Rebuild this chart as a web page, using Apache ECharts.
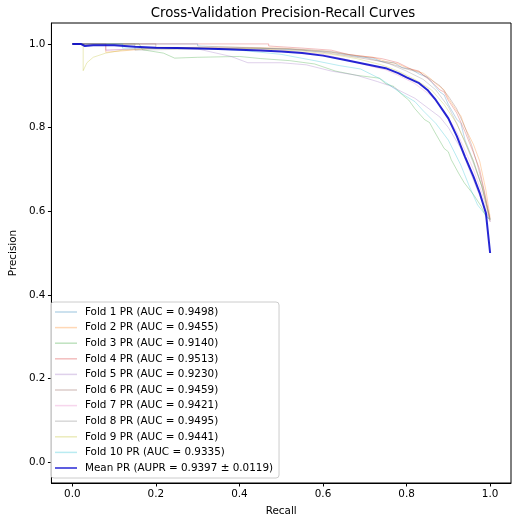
<!DOCTYPE html>
<html>
<head>
<meta charset="utf-8">
<script src="https://cdn.jsdelivr.net/npm/echarts@6/dist/echarts.min.js"></script>
<style>html,body{margin:0;padding:0;background:#fff}#c{width:518px;height:523px}</style>
</head>
<body>
<div id="c"></div>
<script>
const tickValues = [0, 0.2, 0.4, 0.6, 0.8, 1.0];
const foldNames = [
  'Fold 1 PR (AUC = 0.9498)', 'Fold 2 PR (AUC = 0.9455)', 'Fold 3 PR (AUC = 0.9140)',
  'Fold 4 PR (AUC = 0.9513)', 'Fold 5 PR (AUC = 0.9230)', 'Fold 6 PR (AUC = 0.9459)',
  'Fold 7 PR (AUC = 0.9421)', 'Fold 8 PR (AUC = 0.9495)', 'Fold 9 PR (AUC = 0.9441)',
  'Fold 10 PR (AUC = 0.9335)'
];
const meanName = 'Mean PR (AUPR = 0.9397 ± 0.0119)';
const foldColors = ['#1f77b4','#ff7f0e','#2ca02c','#d62728','#9467bd','#8c564b','#e377c2','#7f7f7f','#bcbd22','#17becf'];

const fold1 = [[0,1],[0.3,1],[0.3,0.995],[0.45,0.99],[0.55,0.985],[0.62,0.98],[0.68,0.97],[0.72,0.966],[0.74,0.958],[0.77,0.955],[0.79,0.943],[0.81,0.94],[0.83,0.928],[0.85,0.92],[0.86,0.908],[0.88,0.885],[0.89,0.878],[0.9,0.855],[0.92,0.82],[0.93,0.81],[0.94,0.77],[0.96,0.72],[0.98,0.66],[1.0,0.58]];
const fold2 = [[0,1],[0.08,1],[0.08,0.98],[0.2,0.99],[0.35,0.993],[0.5,0.99],[0.6,0.983],[0.68,0.972],[0.72,0.968],[0.75,0.958],[0.78,0.952],[0.8,0.943],[0.84,0.93],[0.86,0.915],[0.87,0.905],[0.89,0.89],[0.9,0.87],[0.92,0.84],[0.93,0.828],[0.94,0.8],[0.96,0.76],[0.975,0.72],[0.99,0.65],[1.0,0.585]];
const fold3 = [[0,1],[0.16,1],[0.168,0.986],[0.218,0.978],[0.245,0.966],[0.3,0.968],[0.4,0.97],[0.45,0.965],[0.52,0.96],[0.58,0.952],[0.63,0.935],[0.68,0.925],[0.735,0.918],[0.75,0.905],[0.77,0.898],[0.79,0.878],[0.805,0.866],[0.82,0.845],[0.843,0.819],[0.855,0.812],[0.867,0.79],[0.89,0.75],[0.9,0.742],[0.907,0.723],[0.925,0.69],[0.938,0.668],[0.96,0.64],[0.979,0.611],[0.99,0.587],[1.0,0.58]];
const fold4 = [[0,1],[0.47,1],[0.47,0.995],[0.55,0.99],[0.62,0.985],[0.66,0.975],[0.7,0.97],[0.74,0.965],[0.78,0.955],[0.81,0.94],[0.83,0.935],[0.84,0.925],[0.86,0.91],[0.88,0.89],[0.89,0.885],[0.9,0.865],[0.92,0.835],[0.94,0.79],[0.96,0.74],[0.975,0.7],[0.99,0.63],[1.0,0.58]];
const fold5 = [[0,1],[0.08,1],[0.08,0.985],[0.2,0.99],[0.3,0.988],[0.38,0.97],[0.42,0.955],[0.5,0.955],[0.56,0.95],[0.62,0.935],[0.68,0.925],[0.73,0.91],[0.76,0.9],[0.78,0.89],[0.82,0.87],[0.86,0.84],[0.88,0.825],[0.9,0.8],[0.93,0.75],[0.95,0.7],[0.97,0.65],[0.99,0.6],[1.0,0.575]];
const fold6 = [[0,1],[0.2,1],[0.2,0.992],[0.4,0.99],[0.52,0.988],[0.6,0.98],[0.68,0.968],[0.74,0.958],[0.77,0.95],[0.8,0.94],[0.83,0.932],[0.85,0.92],[0.88,0.9],[0.9,0.875],[0.92,0.845],[0.94,0.8],[0.955,0.76],[0.97,0.71],[0.985,0.65],[1.0,0.575]];
const fold7 = [[0,1],[0.08,1],[0.08,0.985],[0.2,0.99],[0.35,0.99],[0.5,0.985],[0.6,0.975],[0.66,0.962],[0.72,0.945],[0.75,0.938],[0.78,0.925],[0.82,0.905],[0.86,0.875],[0.89,0.84],[0.92,0.79],[0.94,0.745],[0.96,0.7],[0.98,0.645],[1.0,0.575]];
const fold8 = [[0,1],[0.15,1],[0.15,0.985],[0.3,0.988],[0.45,0.99],[0.55,0.987],[0.62,0.982],[0.7,0.968],[0.76,0.952],[0.8,0.935],[0.84,0.915],[0.87,0.89],[0.9,0.85],[0.92,0.81],[0.94,0.765],[0.96,0.715],[0.98,0.66],[1.0,0.58]];
const fold9 = [[0,1],[0.026,1],[0.026,0.936],[0.035,0.955],[0.05,0.968],[0.08,0.978],[0.12,0.985],[0.2,0.99],[0.3,0.99],[0.45,0.988],[0.55,0.983],[0.62,0.975],[0.68,0.965],[0.74,0.95],[0.78,0.935],[0.82,0.915],[0.86,0.89],[0.89,0.855],[0.92,0.81],[0.94,0.765],[0.96,0.72],[0.98,0.66],[1.0,0.58]];
const fold10 = [[0,1],[0.12,1],[0.12,0.99],[0.3,0.99],[0.4,0.985],[0.5,0.975],[0.58,0.96],[0.64,0.948],[0.69,0.94],[0.72,0.925],[0.74,0.915],[0.79,0.88],[0.82,0.862],[0.84,0.84],[0.87,0.81],[0.9,0.77],[0.93,0.71],[0.95,0.66],[0.97,0.615],[0.99,0.59],[1.0,0.58]];
const meanCurve = [[0,1.0],[0.02,1.0],[0.03,0.995],[0.05,0.997],[0.1,0.997],[0.15,0.993],[0.2,0.991],[0.25,0.99],[0.3,0.989],[0.35,0.988],[0.4,0.986],[0.45,0.984],[0.5,0.982],[0.55,0.978],[0.6,0.972],[0.65,0.962],[0.7,0.952],[0.75,0.942],[0.78,0.93],[0.8,0.92],[0.83,0.906],[0.85,0.89],[0.87,0.866],[0.9,0.822],[0.92,0.78],[0.94,0.73],[0.96,0.683],[0.975,0.644],[0.99,0.595],[1.0,0.5]];

const folds = [fold1, fold2, fold3, fold4, fold5, fold6, fold7, fold8, fold9, fold10];

function rgba(hex, a) {
  const n = parseInt(hex.slice(1), 16);
  return 'rgba(' + ((n >> 16) & 255) + ',' + ((n >> 8) & 255) + ',' + (n & 255) + ',' + a + ')';
}

const FONT = 'DejaVu Sans';
const FS = 10.4;
const series = folds.map((d, i) => ({
  name: foldNames[i],
  type: 'line',
  data: d,
  showSymbol: false,
  symbol: 'none',
  color: rgba(foldColors[i], 0.3),
  lineStyle: { width: 1, color: rgba(foldColors[i], 0.3) },
  animation: false,
  silent: true
}));
series.push({
  name: meanName,
  type: 'line',
  data: meanCurve,
  showSymbol: false,
  symbol: 'none',
  color: 'rgba(0,0,205,0.85)',
  lineStyle: { width: 2, color: 'rgba(0,0,205,0.85)' },
  animation: false,
  silent: true,
  z: 5
});

const legendData = foldNames.map((n, i) => ({ name: n, itemStyle: { color: rgba(foldColors[i], 0.3) } }));
legendData.push({ name: meanName, itemStyle: { color: 'rgba(0,0,205,0.85)' }, itemHeight: 2.5 });

const chart = echarts.init(document.getElementById('c'), null, { renderer: 'canvas' });
chart.setOption({
  animation: false,
  backgroundColor: '#fff',
  title: {
    text: 'Cross-Validation Precision-Recall Curves',
    left: 278, top: 2, textAlign: 'center',
    textStyle: { fontFamily: FONT, fontSize: 13.3, fontWeight: 'normal', color: '#000' }
  },
  grid: { left: 46, right: 7, top: 23, bottom: 40, show: true, borderColor: '#000', borderWidth: 1, backgroundColor: 'transparent' },
  legend: {
    orient: 'vertical', left: 51, top: 302,
    data: legendData,
    icon: 'rect', itemWidth: 22, itemHeight: 1.5, itemGap: 3.6,
    padding: [4, 6, 4, 4],
    backgroundColor: 'rgba(255,255,255,0.8)',
    borderColor: '#cccccc', borderWidth: 1, borderRadius: 3,
    textStyle: { fontFamily: FONT, fontSize: FS, color: '#000', lineHeight: 12, padding: [0, 0, 0, 3] },
    selectedMode: false
  },
  xAxis: {
    type: 'value', min: -0.05, max: 1.05,
    name: 'Recall', nameLocation: 'middle', nameGap: 23,
    nameTextStyle: { fontFamily: FONT, fontSize: FS, color: '#000' },
    axisLine: { show: true, onZero: false, lineStyle: { color: '#000', width: 1 } },
    axisTick: { show: true, length: 3.5, lineStyle: { color: '#000' }, customValues: tickValues },
    axisLabel: { fontFamily: FONT, fontSize: FS, color: '#000', margin: 6, customValues: tickValues, formatter: v => v.toFixed(1) },
    splitLine: { show: false }
  },
  yAxis: {
    type: 'value', min: -0.05, max: 1.05,
    name: 'Precision', nameLocation: 'middle', nameGap: 28, nameRotate: 90,
    nameTextStyle: { fontFamily: FONT, fontSize: FS, color: '#000' },
    axisLine: { show: true, onZero: false, lineStyle: { color: '#000', width: 1 } },
    axisTick: { show: true, length: 3.5, lineStyle: { color: '#000' }, customValues: tickValues },
    axisLabel: { fontFamily: FONT, fontSize: FS, color: '#000', margin: 6, customValues: tickValues, formatter: v => v.toFixed(1) },
    splitLine: { show: false }
  },
  series: series
});
</script>
</body>
</html>
